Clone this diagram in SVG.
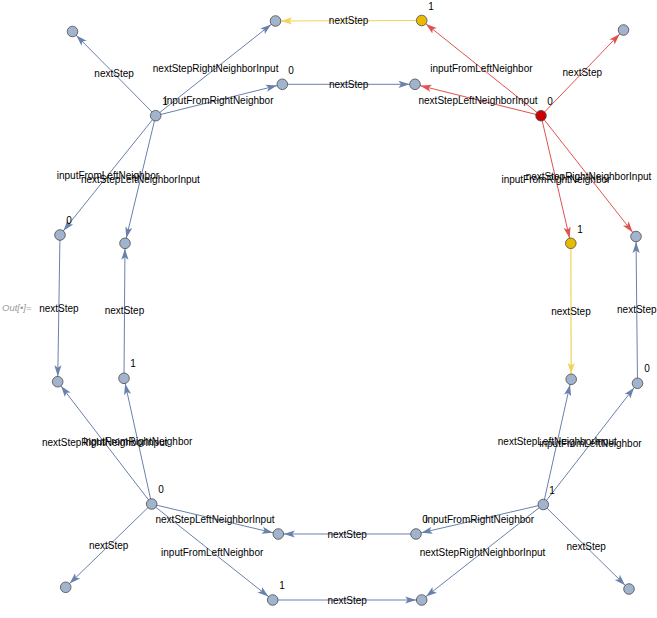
<svg xmlns="http://www.w3.org/2000/svg" width="657" height="618" viewBox="0 0 657 618">
<style>
.e{stroke:#6981ab;stroke-width:1;fill:none;marker-end:url(#ab)}
.er{stroke:#e05252;stroke-width:1;fill:none;marker-end:url(#ar)}
.ey{stroke:#f0d458;stroke-width:1.2;fill:none;marker-end:url(#ay)}
.n{fill:#a2b3cd;stroke:#4a4a4a;stroke-width:0.8}
.nr{fill:#cc0000;stroke:#4a4a4a;stroke-width:0.8}
.ny{fill:#e6bb00;stroke:#4a4a4a;stroke-width:0.8}
text{font-family:"Liberation Sans",Arial,sans-serif;font-size:10px;fill:#000;text-anchor:middle}
.vl{font-size:10px}
.out{font-style:italic;fill:#9a9a9a;text-anchor:start;font-size:9.5px}
</style>
<defs>
<marker id="ab" markerUnits="userSpaceOnUse" markerWidth="20" markerHeight="10" refX="16.5" refY="0" orient="auto" overflow="visible"><path d="M0,-3.6 L11,0 L0,3.6 L2.5,0 Z" fill="#6981ab"/></marker>
<marker id="ar" markerUnits="userSpaceOnUse" markerWidth="20" markerHeight="10" refX="16.5" refY="0" orient="auto" overflow="visible"><path d="M0,-3.6 L11,0 L0,3.6 L2.5,0 Z" fill="#e05252"/></marker>
<marker id="ay" markerUnits="userSpaceOnUse" markerWidth="20" markerHeight="10" refX="16.5" refY="0" orient="auto" overflow="visible"><path d="M0,-3.6 L11,0 L0,3.6 L2.5,0 Z" fill="#f0d458"/></marker>
</defs>
<text class="out" x="2" y="311">Out[•]=</text>
<g id="connectors">
<line class="e" x1="155.7" y1="115.7" x2="72.5" y2="31.5"/>
<line class="e" x1="155.7" y1="115.7" x2="275.5" y2="21"/>
<line class="e" x1="155.7" y1="115.7" x2="282.3" y2="84.3"/>
<line class="e" x1="155.7" y1="115.7" x2="60" y2="235"/>
<line class="e" x1="155.7" y1="115.7" x2="125" y2="243.3"/>
<line class="ey" x1="421.7" y1="20.5" x2="275.5" y2="21"/>
<line class="e" x1="282.3" y1="84.3" x2="415" y2="84.3"/>
<line class="er" x1="541" y1="115.7" x2="421.7" y2="20.5"/>
<line class="er" x1="541" y1="115.7" x2="415" y2="84.3"/>
<line class="er" x1="541" y1="115.7" x2="623.5" y2="30"/>
<line class="er" x1="541" y1="115.7" x2="570.8" y2="243.3"/>
<line class="er" x1="541" y1="115.7" x2="636" y2="236.5"/>
<line class="e" x1="60" y1="235" x2="57.7" y2="381.7"/>
<line class="e" x1="124" y1="378.3" x2="125" y2="243.3"/>
<line class="ey" x1="570.8" y1="243.3" x2="571.2" y2="379.3"/>
<line class="e" x1="637.5" y1="383.3" x2="636" y2="236.5"/>
<line class="e" x1="151.7" y1="504" x2="57.7" y2="381.7"/>
<line class="e" x1="151.7" y1="504" x2="124" y2="378.3"/>
<line class="e" x1="151.7" y1="504" x2="65.7" y2="587.3"/>
<line class="e" x1="151.7" y1="504" x2="278.3" y2="534"/>
<line class="e" x1="151.7" y1="504" x2="272.7" y2="600"/>
<line class="e" x1="543.3" y1="504.5" x2="571.2" y2="379.3"/>
<line class="e" x1="543.3" y1="504.5" x2="637.5" y2="383.3"/>
<line class="e" x1="543.3" y1="504.5" x2="416" y2="534"/>
<line class="e" x1="543.3" y1="504.5" x2="629" y2="589"/>
<line class="e" x1="543.3" y1="504.5" x2="421.7" y2="600"/>
<line class="e" x1="416" y1="534" x2="278.3" y2="534"/>
<line class="e" x1="272.7" y1="600" x2="421.7" y2="600"/>
</g>
<g id="nA"><circle class="n" cx="72.5" cy="31.5" r="5.3"/></g>
<g id="nB"><circle class="n" cx="275.5" cy="21" r="5.3"/></g>
<g id="nC"><circle class="ny" cx="421.7" cy="20.5" r="5.3"/><text class="vl" x="431" y="9.5">1</text></g>
<g id="nD"><circle class="n" cx="623.5" cy="30" r="5.3"/></g>
<g id="nE"><circle class="n" cx="282.3" cy="84.3" r="5.3"/><text class="vl" x="291" y="73.5">0</text></g>
<g id="nF"><circle class="n" cx="415" cy="84.3" r="5.3"/></g>
<g id="nG"><circle class="n" cx="155.7" cy="115.7" r="5.3"/><text class="vl" x="165" y="104.5">1</text></g>
<g id="nH"><circle class="nr" cx="541" cy="115.7" r="5.3"/><text class="vl" x="550" y="104.5">0</text></g>
<g id="nI"><circle class="n" cx="60" cy="235" r="5.3"/><text class="vl" x="69" y="224">0</text></g>
<g id="nJ"><circle class="n" cx="125" cy="243.3" r="5.3"/></g>
<g id="nK"><circle class="ny" cx="570.8" cy="243.3" r="5.3"/><text class="vl" x="580" y="232.5">1</text></g>
<g id="nL"><circle class="n" cx="636" cy="236.5" r="5.3"/></g>
<g id="nM"><circle class="n" cx="57.7" cy="381.7" r="5.3"/></g>
<g id="nN"><circle class="n" cx="124" cy="378.3" r="5.3"/><text class="vl" x="133" y="367">1</text></g>
<g id="nO"><circle class="n" cx="571.2" cy="379.3" r="5.3"/></g>
<g id="nP"><circle class="n" cx="637.5" cy="383.3" r="5.3"/><text class="vl" x="647" y="372">0</text></g>
<g id="nQ"><circle class="n" cx="151.7" cy="504" r="5.3"/><text class="vl" x="161" y="493">0</text></g>
<g id="nR"><circle class="n" cx="543.3" cy="504.5" r="5.3"/><text class="vl" x="552" y="493.5">1</text></g>
<g id="nS"><circle class="n" cx="278.3" cy="534" r="5.3"/></g>
<g id="nT"><circle class="n" cx="416" cy="534" r="5.3"/><text class="vl" x="425" y="523">0</text></g>
<g id="nU"><circle class="n" cx="65.7" cy="587.3" r="5.3"/></g>
<g id="nV"><circle class="n" cx="272.7" cy="600" r="5.3"/><text class="vl" x="282" y="589">1</text></g>
<g id="nW"><circle class="n" cx="421.7" cy="600" r="5.3"/></g>
<g id="nX"><circle class="n" cx="629" cy="589" r="5.3"/></g>
<g id="edge-labels">
<text x="114.1" y="77">nextStep</text>
<text x="215.6" y="71.9">nextStepRightNeighborInput</text>
<text x="219" y="103.5">inputFromRightNeighbor</text>
<text x="107.9" y="178.9">inputFromLeftNeighbor</text>
<text x="140.4" y="183">nextStepLeftNeighborInput</text>
<text x="348.6" y="24.3">nextStep</text>
<text x="348.7" y="87.8">nextStep</text>
<text x="481.4" y="71.6">inputFromLeftNeighbor</text>
<text x="478" y="103.5">nextStepLeftNeighborInput</text>
<text x="582.3" y="76.4">nextStep</text>
<text x="555.9" y="183">inputFromRightNeighbor</text>
<text x="588.5" y="179.6">nextStepRightNeighborInput</text>
<text x="58.9" y="311.9">nextStep</text>
<text x="124.5" y="314.3">nextStep</text>
<text x="571" y="314.8">nextStep</text>
<text x="636.8" y="313.4">nextStep</text>
<text x="104.7" y="446.4">nextStepRightNeighborInput</text>
<text x="137.9" y="444.7">inputFromRightNeighbor</text>
<text x="108.7" y="549.2">nextStep</text>
<text x="215" y="522.5">nextStepLeftNeighborInput</text>
<text x="212.2" y="555.5">inputFromLeftNeighbor</text>
<text x="557.3" y="445.4">nextStepLeftNeighborInput</text>
<text x="590.4" y="447.4">inputFromLeftNeighbor</text>
<text x="479.7" y="522.8">inputFromRightNeighbor</text>
<text x="586.2" y="550.3">nextStep</text>
<text x="482.5" y="555.8">nextStepRightNeighborInput</text>
<text x="347.2" y="537.5">nextStep</text>
<text x="347.2" y="603.5">nextStep</text>
</g>
</svg>
